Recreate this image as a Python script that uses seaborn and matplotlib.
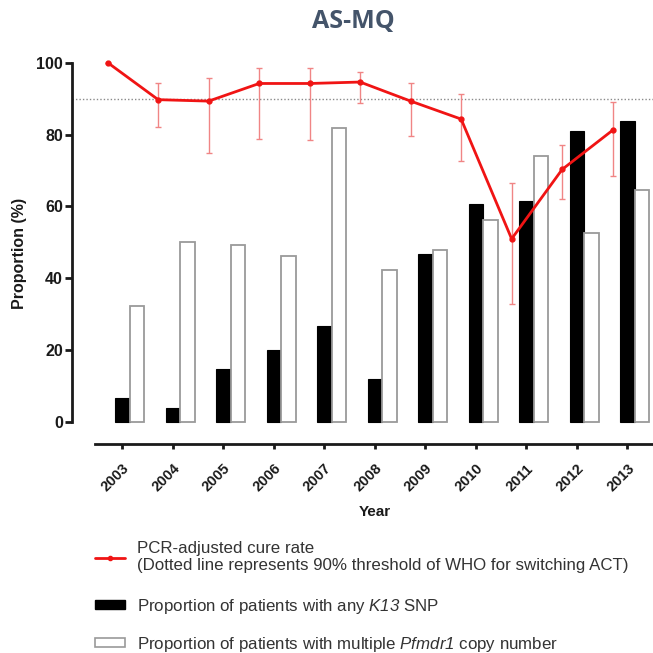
import numpy as np
import pandas as pd
import matplotlib
matplotlib.use("Agg")
import matplotlib.pyplot as plt
import seaborn as sns
from matplotlib.lines import Line2D
from matplotlib.patches import Patch

# data
years = ['2003', '2004', '2005', '2006', '2007', '2008', '2009', '2010', '2011', '2012', '2013']
k13 = [6.7, 4.1, 14.8, 20.1, 26.8, 12.0, 46.8, 60.6, 61.4, 81.1, 83.8]
pfmdr1 = [32.4, 50.1, 49.3, 46.3, 81.7, 42.4, 47.9, 56.3, 73.9, 52.7, 64.6]
cure = [100, 89.7, 89.3, 94.2, 94.2, 94.6, 89.3, 84.3, 51.0, 70.3, 81.2]
cure_lo = [100, 82.2, 74.9, 78.8, 78.5, 88.9, 79.5, 72.7, 33.0, 62.0, 68.4]
cure_hi = [100, 94.2, 95.7, 98.4, 98.4, 97.4, 94.4, 91.4, 66.4, 77.0, 89.1]
threshold = 90

sns.set_style("white")
plt.rcParams['font.family'] = ['Liberation Sans', 'DejaVu Sans']
# only gene names go through mathtext, so make it all italic
plt.rcParams['mathtext.fontset'] = 'custom'
plt.rcParams['mathtext.rm'] = 'Liberation Sans:italic'
plt.rcParams['mathtext.it'] = 'Liberation Sans:italic'

df = pd.DataFrame({
    'Year': years * 2,
    'Proportion': k13 + pfmdr1,
    'Series': ['k13'] * len(years) + ['pfmdr1'] * len(years),
})

fig = plt.figure(figsize=(6.53, 6.53), dpi=100)
ax = fig.add_axes([0.1103, 0.3201, 0.8897, 0.584])

bar_w = 0.574
sns.barplot(data=df, x='Year', y='Proportion', hue='Series',
            palette={'k13': 'black', 'pfmdr1': 'white'},
            width=bar_w, dodge=True, gap=0, legend=False, ax=ax)
for bar in ax.containers[0]:
    bar.set_edgecolor('black')
    bar.set_linewidth(0.8)
for bar in ax.containers[1]:
    bar.set_edgecolor('#9a9a9a')
    bar.set_linewidth(1.3)

pos = np.arange(len(years))
shift = -bar_w / 4           # tick sits under the black bar
line_x = pos + shift - 0.29  # cure-rate line sits left of the bars

cure_a = np.array(cure)
yerr = np.vstack([cure_a - np.array(cure_lo), np.array(cure_hi) - cure_a])
ax.errorbar(line_x, cure_a, yerr=yerr, fmt='none', ecolor='#f08585',
            elinewidth=1, capsize=2.5, capthick=1, zorder=4, clip_on=False)
ax.plot(line_x, cure_a, color='#f01414', lw=2, marker='o', ms=3.5,
        zorder=5, clip_on=False)

ax.axhline(threshold, color='#8a8a8a', ls=(0, (1, 1.5)), lw=1, zorder=1)

ax.set_ylim(-6.03, 100)
ax.set_xlim(-1.14, 10.366)
ax.set_yticks([0, 20, 40, 60, 80, 100])
ax.set_xticks(pos + shift, labels=years)

for s in ['top', 'right']:
    ax.spines[s].set_visible(False)
ax.spines['left'].set_bounds(0, 100)
ax.spines['bottom'].set_bounds(-0.684, 10.366)
for s in ['left', 'bottom']:
    ax.spines[s].set_linewidth(2)
    ax.spines[s].set_color('#1a1a1a')

ax.tick_params(axis='y', length=5, width=2, pad=1.5, labelsize=11.5, colors='#1a1a1a', left=True)
ax.tick_params(axis='x', length=3.6, width=2, pad=9, labelsize=10.5, colors='#1a1a1a', bottom=True)
for lbl in ax.get_yticklabels() + ax.get_xticklabels():
    lbl.set_fontweight('bold')
for lbl in ax.get_xticklabels():
    lbl.set_rotation(45)
    lbl.set_ha('right')
    lbl.set_va('top')
    lbl.set_rotation_mode('anchor')

ax.set_xlabel('')
ax.set_ylabel('Proportion (%)', fontsize=11.5, fontweight='bold', labelpad=7, color='#1a1a1a')
fig.text(375 / 653, 1 - 512 / 653, 'Year', ha='center', va='center',
         fontsize=11, fontweight='bold', color='#1a1a1a')

fig.text(353 / 653, 1 - 22 / 653, 'AS-MQ', ha='center', va='center',
         fontsize=18, fontweight='bold', color='#44546a', family='Open Sans')

# legend entries placed one by one under the plot
entries = [
    (Line2D([], [], color='#f01414', lw=2, marker='o', ms=3),
     'PCR-adjusted cure rate\n(Dotted line represents 90% threshold of WHO for switching ACT)', 557),
    (Patch(facecolor='black', edgecolor='black'),
     'Proportion of patients with any $K13$ SNP', 606),
    (Patch(facecolor='white', edgecolor='#9a9a9a', linewidth=1.2),
     'Proportion of patients with multiple $Pfmdr1$ copy number', 644),
]
for handle, label, ypix in entries:
    fig.legend([handle], [label], loc='center left',
               bbox_to_anchor=(95 / 653, 1 - ypix / 653),
               frameon=False, fontsize=12.2, handlelength=1.75, handleheight=0.4,
               handletextpad=0.7, borderpad=0, borderaxespad=0,
               labelcolor='#333333')

fig.savefig('out.png', dpi=100)
